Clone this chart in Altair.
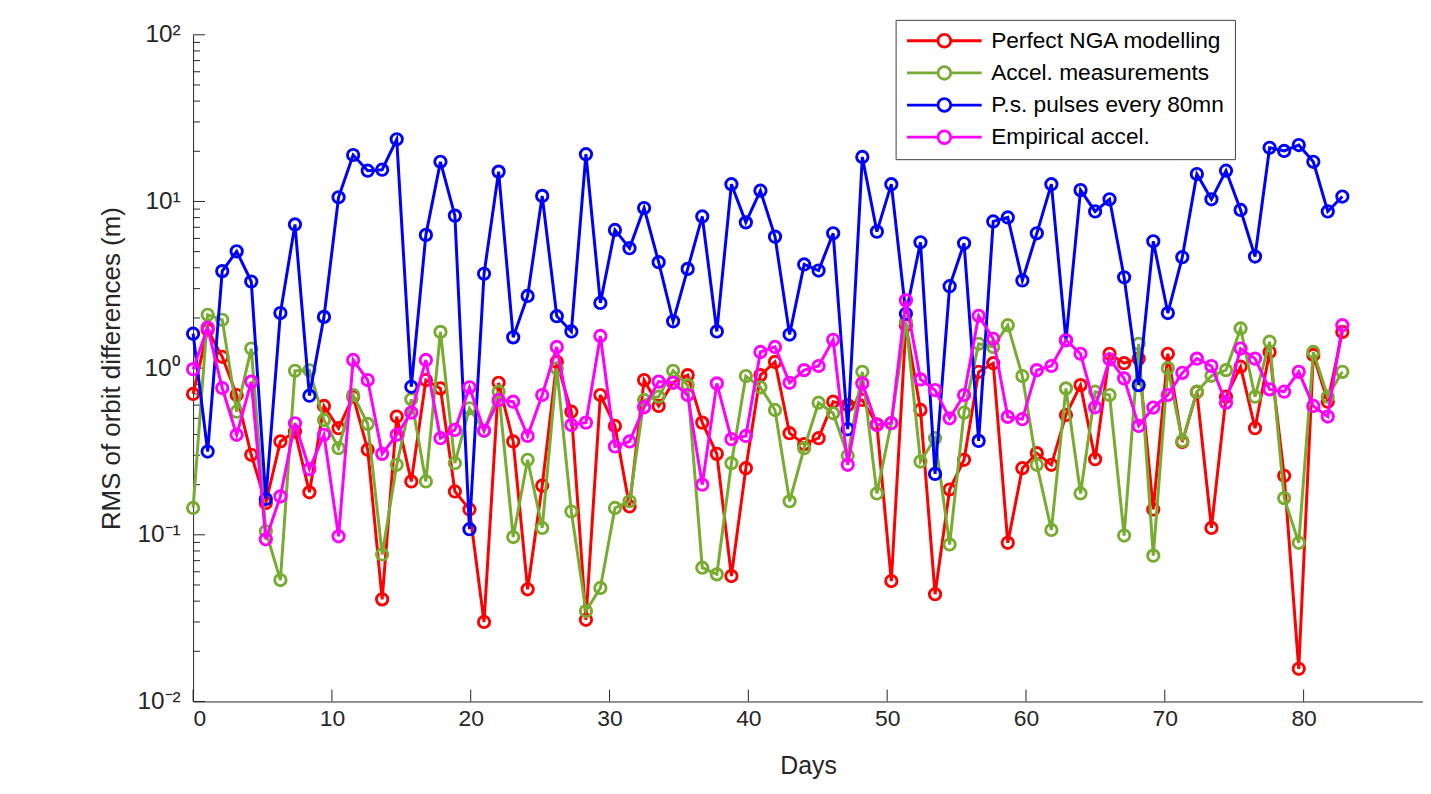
import altair as alt
import pandas as pd

days = [0.0, 1.05, 2.10, 3.14, 4.19, 5.24, 6.29, 7.34, 8.38, 9.43,
        10.48, 11.53, 12.58, 13.62, 14.67, 15.72, 16.77, 17.82, 18.86, 19.91,
        20.96, 22.01, 23.06, 24.10, 25.15, 26.20, 27.25, 28.30, 29.34, 30.39,
        31.44, 32.49, 33.54, 34.58, 35.63, 36.68, 37.73, 38.78, 39.82, 40.87,
        41.92, 42.97, 44.02, 45.06, 46.11, 47.16, 48.21, 49.26, 50.30, 51.35,
        52.40, 53.45, 54.50, 55.54, 56.59, 57.64, 58.69, 59.74, 60.78, 61.83,
        62.88, 63.93, 64.98, 66.02, 67.07, 68.12, 69.17, 70.22, 71.26, 72.31,
        73.36, 74.41, 75.46, 76.50, 77.55, 78.60, 79.65, 80.70, 81.74, 82.79]

perfect_nga = [0.70, 1.70, 1.17, 0.69, 0.302, 0.155, 0.363, 0.416, 0.180, 0.593,
               0.436, 0.674, 0.324, 0.041, 0.512, 0.209, 0.848, 0.756, 0.182, 0.142,
               0.030, 0.817, 0.363, 0.0471, 0.197, 1.09, 0.548, 0.0309, 0.69, 0.45,
               0.148, 0.848, 0.593, 0.82, 0.908, 0.471, 0.306, 0.0566, 0.251, 0.908,
               1.09, 0.407, 0.35, 0.38, 0.629, 0.60, 0.644, 0.46, 0.0528, 1.81,
               0.561, 0.044, 0.187, 0.282, 0.95, 1.07, 0.0896, 0.251, 0.309, 0.263,
               0.524, 0.791, 0.284, 1.22, 1.07, 1.14, 0.142, 1.22, 0.36, 0.72,
               0.110, 0.674, 1.02, 0.436, 1.25, 0.226, 0.0157, 1.2, 0.629, 1.65]

accel_meas = [0.145, 2.09, 1.95, 0.548, 1.31, 0.105, 0.0535, 0.964, 0.97, 0.489,
              0.331, 0.69, 0.463, 0.0762, 0.263, 0.65, 0.209, 1.65, 0.269, 0.574,
              0.42, 0.722, 0.097, 0.282, 0.110, 0.995, 0.138, 0.0349, 0.048, 0.145,
              0.159, 0.644, 0.674, 0.964, 0.791, 0.0635, 0.0579, 0.269, 0.896, 0.767,
              0.561, 0.159, 0.331, 0.62, 0.536, 0.298, 0.95, 0.177, 0.47, 1.9,
              0.275, 0.38, 0.0875, 0.541, 1.4, 1.34, 1.81, 0.896, 0.263, 0.107,
              0.756, 0.177, 0.722, 0.69, 0.099, 1.40, 0.075, 1.0, 0.365, 0.722,
              0.9, 0.973, 1.73, 0.674, 1.44, 0.166, 0.0896, 1.25, 0.674, 0.95]

pulses_80mn = [1.61, 0.316, 3.82, 5.02, 3.31, 0.164, 2.14, 7.28, 0.683, 2.03,
               10.6, 19.0, 15.3, 15.5, 23.6, 0.773, 6.30, 17.3, 8.22, 0.108,
               3.68, 15.1, 1.53, 2.71, 10.8, 2.05, 1.66, 19.2, 2.46, 6.75,
               5.24, 9.13, 4.32, 1.91, 3.94, 8.13, 1.66, 12.7, 7.49, 11.6,
               6.15, 1.59, 4.19, 3.85, 6.44, 0.430, 18.5, 6.59, 12.7, 2.12,
               5.69, 0.232, 3.10, 5.61, 0.366, 7.59, 8.02, 3.36, 6.44, 12.7,
               1.47, 11.7, 8.71, 10.3, 3.51, 0.791, 5.77, 2.14, 4.63, 14.6,
               10.3, 15.3, 8.89, 4.67, 21.0, 20.1, 21.8, 17.3, 8.71, 10.7]

empirical = [0.986, 1.75, 0.76, 0.398, 0.83, 0.094, 0.170, 0.467, 0.248, 0.398,
             0.098, 1.12, 0.848, 0.306, 0.398, 0.541, 1.12, 0.38, 0.426, 0.767,
             0.422, 0.644, 0.629, 0.392, 0.69, 1.34, 0.456, 0.471, 1.56, 0.339,
             0.363, 0.582, 0.83, 0.817, 0.69, 0.2, 0.81, 0.375, 0.392, 1.25,
             1.34, 0.817, 0.973, 1.03, 1.48, 0.263, 0.81, 0.456, 0.467, 2.55,
             0.856, 0.739, 0.5, 0.69, 2.06, 1.5, 0.51, 0.494, 0.973, 1.03,
             1.47, 1.22, 0.582, 1.13, 0.868, 0.45, 0.58, 0.69, 0.937, 1.14,
             1.03, 0.62, 1.31, 1.14, 0.746, 0.722, 0.95, 0.593, 0.512, 1.81]

series_names = ["Perfect NGA modelling", "Accel. measurements",
                "P.s. pulses every 80mn", "Empirical accel."]
series_colors = ["#ff0000", "#77ac30", "#0000ff", "#ff00ff"]
series_values = [perfect_nga, accel_meas, pulses_80mn, empirical]

x_ticks = [0, 10, 20, 30, 40, 50, 60, 70, 80]
y_major = [0.01, 0.1, 1, 10, 100]
y_major_labels = ["10⁻²", "10⁻¹", "10⁰", "10¹", "10²"]
y_minor = [m * d for d in [0.01, 0.1, 1, 10] for m in range(2, 10)]

FONT = "Liberation Sans"
AX = "#262626"
W, H = 1236, 670

rows = []
for name, vals in zip(series_names, series_values):
    for d, v in zip(days, vals):
        rows.append({"day": d, "rms": v, "series": name})
df = pd.DataFrame(rows)

xscale = alt.Scale(domain=[0, 88.6], nice=False, zero=False)
yscale = alt.Scale(type="log", domain=[0.01, 100], nice=False)

label_expr = " : ".join(
    f"datum.value < {v * 1.5} ? '{lab}'" for v, lab in zip(y_major, y_major_labels)
) + " : ''"

x_enc = alt.X("day:Q", scale=xscale,
              axis=alt.Axis(values=x_ticks, title="Days", grid=False, ticks=False,
                            tickSize=0, labelPadding=6, labelFontSize=23,
                            labelFont=FONT, labelColor=AX, domainColor=AX,
                            titleFont=FONT, titleFontSize=25, titleFontWeight="normal",
                            titleColor=AX, titleY=64, titleBaseline="middle"))
y_enc = alt.Y("rms:Q", scale=yscale,
              axis=alt.Axis(values=y_major, labelExpr=label_expr,
                            title="RMS of orbit differences (m)", grid=False,
                            ticks=False, tickSize=0, labelPadding=13,
                            labelFontSize=24.5, labelFont=FONT, labelColor=AX,
                            domainColor=AX, titleFont=FONT, titleFontSize=26,
                            titleFontWeight="normal", titleColor=AX,
                            titleX=-82, titleY=H / 2, titleBaseline="middle",
                            titleAlign="center", titleAngle=-90))

legend_path = ("M-1,0L-0.19,0M0.19,0L1,0"
               "M-0.17,0A0.17,0.17,0,1,1,0.17,0A0.17,0.17,0,1,1,-0.17,0Z")

color_enc = alt.Color("series:N",
                      scale=alt.Scale(domain=series_names, range=series_colors),
                      legend=alt.Legend(title=None, orient="none", legendX=706,
                                        legendY=-15, symbolType=legend_path,
                                        symbolSize=5625, symbolStrokeWidth=2.8,
                                        symbolFillColor="white", clipHeight=22,
                                        rowPadding=9.3, labelFontSize=22.8,
                                        labelFont=FONT, labelColor="#000000",
                                        labelOffset=8, labelLimit=500, padding=10,
                                        strokeColor="#404040", fillColor="white",
                                        symbolOpacity=1))

layers = []

# inward tick marks (MATLAB style)
ymaj_df = pd.DataFrame({"rms": y_major})
ymin_df = pd.DataFrame({"rms": y_minor})
xt_df = pd.DataFrame({"day": x_ticks})
layers.append(alt.Chart(ymaj_df).mark_rule(color=AX, strokeWidth=1).encode(
    y=alt.Y("rms:Q", scale=yscale), x=alt.value(0), x2=alt.value(12)))
layers.append(alt.Chart(ymin_df).mark_rule(color=AX, strokeWidth=1).encode(
    y=alt.Y("rms:Q", scale=yscale), x=alt.value(0), x2=alt.value(7)))
layers.append(alt.Chart(xt_df).mark_rule(color=AX, strokeWidth=1).encode(
    x=alt.X("day:Q", scale=xscale), y=alt.value(H), y2=alt.value(H - 12)))

for name in series_names:
    base = alt.Chart(df).transform_filter(alt.datum.series == name)
    layers.append(base.mark_line(strokeWidth=3).encode(
        x=x_enc, y=y_enc, color=color_enc))
    layers.append(base.mark_point(shape="circle", filled=False, size=130,
                                  strokeWidth=2.9, opacity=1).encode(
        x=x_enc, y=y_enc, color=color_enc))

chart = alt.layer(*layers).resolve_scale(color="shared").properties(
    width=W, height=H,
    padding={"left": 186, "top": 25, "right": 0, "bottom": 80},
    autosize=alt.AutoSizeParams(type="none"),
    background="white",
).configure_view(stroke="transparent", strokeWidth=0)

chart.save("out.html", embed_options={"renderer": "svg", "actions": False})
